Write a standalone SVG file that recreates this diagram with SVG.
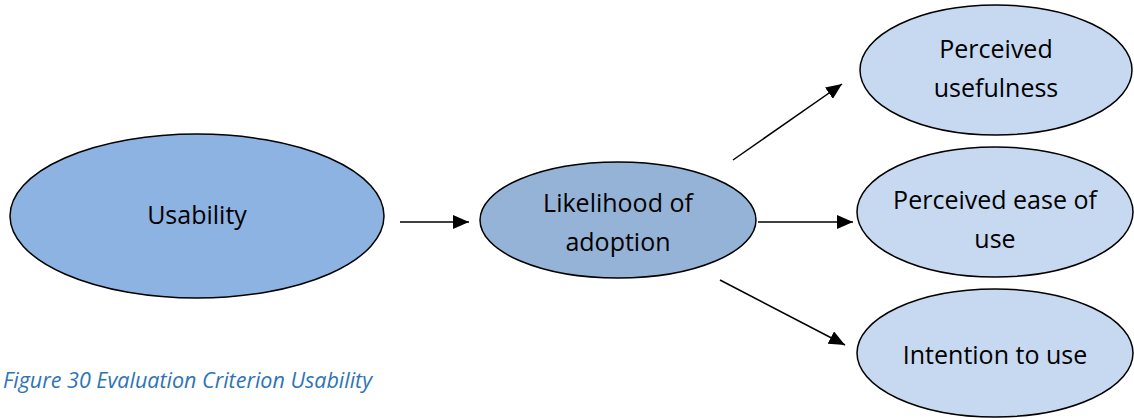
<svg xmlns="http://www.w3.org/2000/svg" width="1134" height="418" viewBox="0 0 1134 418">
  <defs>
    <marker id="arrow" markerWidth="16" markerHeight="14" refX="16" refY="7" orient="auto" markerUnits="userSpaceOnUse">
      <path d="M0,0 L16,7 L0,14 Z" fill="#000"/>
    </marker>
    <style>
      .node { stroke: #000; stroke-width: 1.5; }
      .label { font-family: "Open Sans", "Liberation Sans", sans-serif; font-size: 25px; fill: #000; text-anchor: middle; }
      .edge { stroke: #000; stroke-width: 1.5; fill: none; marker-end: url(#arrow); }
      .caption { font-family: "Open Sans", "Liberation Sans", sans-serif; font-style: italic; font-size: 21.5px; fill: #2E74B5; }
    </style>
  </defs>
  <rect width="1134" height="418" fill="#fff"/>

  <g id="connectors">
    <line class="edge" x1="400" y1="222" x2="469" y2="222"/>
    <line class="edge" x1="758" y1="222" x2="853" y2="222"/>
    <line class="edge" x1="733" y1="160" x2="842" y2="84"/>
    <line class="edge" x1="720" y1="280" x2="845" y2="345"/>
  </g>

  <g id="usability">
    <ellipse class="node" cx="197" cy="216" rx="187" ry="82" fill="#8DB3E2"/>
    <text class="label" x="197" y="224">Usability</text>
  </g>

  <g id="likelihood">
    <ellipse class="node" cx="618" cy="220" rx="138" ry="58" fill="#95B3D7"/>
    <text class="label" x="618" y="212">Likelihood of</text>
    <text class="label" x="618" y="251">adoption</text>
  </g>

  <g id="usefulness">
    <ellipse class="node" cx="996" cy="70" rx="136" ry="65" fill="#C6D9F1"/>
    <text class="label" x="996" y="58">Perceived</text>
    <text class="label" x="996" y="97">usefulness</text>
  </g>

  <g id="ease">
    <ellipse class="node" cx="995" cy="212" rx="138" ry="65" fill="#C6D9F1"/>
    <text class="label" x="995" y="209">Perceived ease of</text>
    <text class="label" x="995" y="248">use</text>
  </g>

  <g id="intention">
    <ellipse class="node" cx="995" cy="353" rx="138" ry="64" fill="#C6D9F1"/>
    <text class="label" x="995" y="364">Intention to use</text>
  </g>

  <text class="caption" x="3" y="388">Figure 30 Evaluation Criterion Usability</text>
</svg>
